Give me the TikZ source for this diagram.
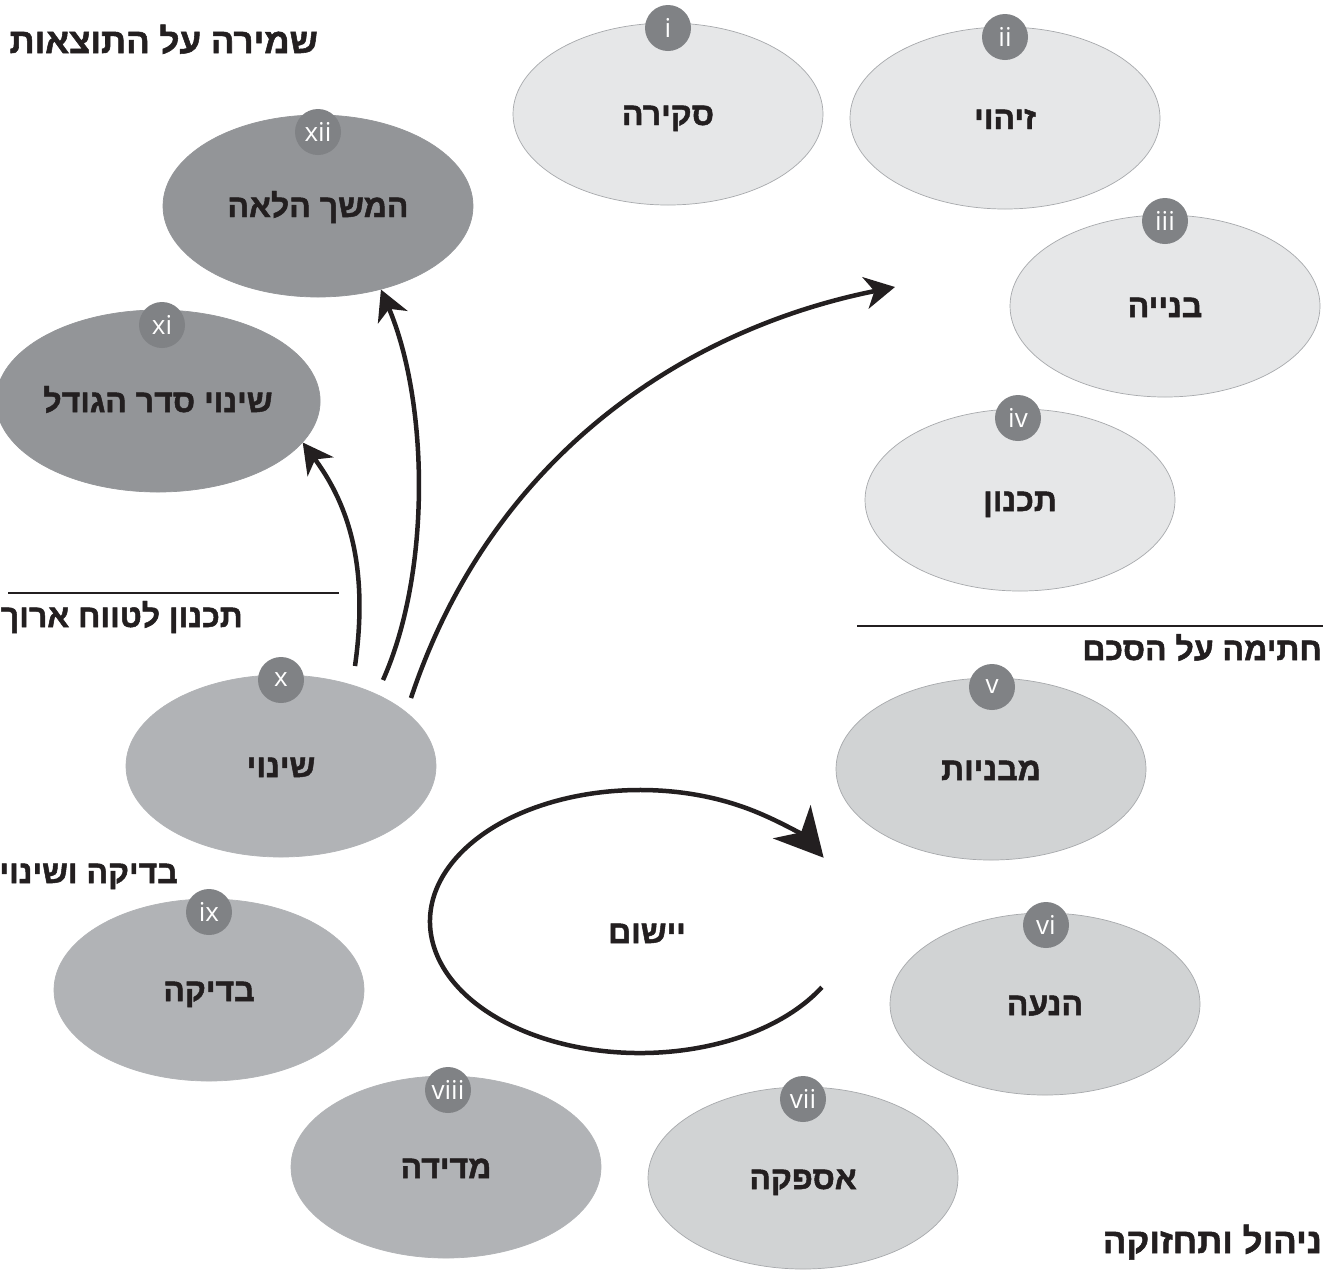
\documentclass[tikz,border=0pt]{standalone}
\usepackage{fontspec}
\usetikzlibrary{arrows.meta,shapes.geometric}
\TeXXeTstate=1
\newfontfamily\hebfont[Script=Hebrew, BoldFeatures={FakeBold=1.5}]{Liberation Sans}
\newfontfamily\numfont{Open Sans}
\definecolor{ink}{HTML}{231F20}
\definecolor{tierA}{HTML}{E6E7E8}
\definecolor{tierB}{HTML}{D1D3D4}
\definecolor{tierC}{HTML}{B1B3B6}
\definecolor{tierD}{HTML}{939598}
\definecolor{badgefill}{HTML}{808285}
\definecolor{rim}{HTML}{A7A9AC}
\tikzset{
  stage/.style={ellipse, minimum width=310pt, minimum height=182pt, inner sep=0pt,
    draw=rim, line width=0.7pt, text=ink, text height=22pt, text depth=0pt,
    font=\hebfont\bfseries\fontsize{32}{36}\selectfont},
  stageA/.style={stage, fill=tierA},
  stageB/.style={stage, fill=tierB},
  stageC/.style={stage, fill=tierC, draw=tierC},
  stageD/.style={stage, fill=tierD, draw=tierD},
  badge/.style={circle, fill=badgefill, minimum size=46pt, inner sep=0pt, text=white,
    font=\numfont\fontsize{26}{26}\selectfont},
  heading/.style={anchor=base east, inner sep=0pt, text=ink,
    font=\hebfont\bfseries\fontsize{35}{40}\selectfont},
  subheading/.style={anchor=base east, inner sep=0pt, text=ink,
    font=\hebfont\bfseries\fontsize{32}{36}\selectfont},
  rule/.style={draw=ink, line width=2pt},
  flow/.style={draw=ink, line width=4.5pt,
    -{Stealth[length=30pt,width=32pt,inset=9pt]}},
  cycleflow/.style={draw=ink, line width=4.5pt,
    -{Stealth[length=48pt,width=50pt,inset=14pt]}},
}
\begin{document}
\begin{tikzpicture}[x=1pt,y=1pt]
\useasboundingbox (0,0) rectangle (1340,-1270);
\fill[white] (0,0) rectangle (1340,-1270);
\clip (0,0) rectangle (1340,-1270);

% stages of the cycle
\node[stageA] (s1)  at (668,-114)  {\beginR סקירה\endR};
\node[stageA] (s2)  at (1005,-118) {\beginR זיהוי\endR};
\node[stageA] (s3)  at (1165,-306) {\beginR בנייה\endR};
\node[stageA] (s4)  at (1020,-500) {\beginR תכנון\endR};
\node[stageB] (s5)  at (991,-769)  {\beginR מבניות\endR};
\node[stageB] (s6)  at (1045,-1004){\beginR הנעה\endR};
\node[stageB] (s7)  at (803,-1178) {\beginR אספקה\endR};
\node[stageC] (s8)  at (446,-1167) {\beginR מדידה\endR};
\node[stageC] (s9)  at (209,-990)  {\beginR בדיקה\endR};
\node[stageC] (s10) at (281,-766)  {\beginR שינוי\endR};
\node[stageD] (s11) at (158,-401)  {\beginR שינוי סדר הגודל\endR};
\node[stageD] (s12) at (318,-206)  {\beginR המשך הלאה\endR};

% numbered badges
\node[badge] (b1)  at (668,-28)   {i};
\node[badge] (b2)  at (1005,-37)  {ii};
\node[badge] (b3)  at (1165,-221) {iii};
\node[badge] (b4)  at (1018,-418) {iv};
\node[badge] (b5)  at (992,-687)  {v};
\node[badge] (b6)  at (1046,-925) {vi};
\node[badge] (b7)  at (803,-1099) {vii};
\node[badge] (b8)  at (448,-1090) {viii};
\node[badge] (b9)  at (209,-912)  {ix};
\node[badge] (b10) at (281,-680)  {x};
\node[badge] (b11) at (162,-325)  {xi};
\node[badge] (b12) at (318,-132)  {xii};

% phase headings
\node[heading]    (h1) at (318,-53)   {\beginR שמירה על התוצאות\endR};
\node[subheading] (h2) at (243,-627)  {\beginR תכנון לטווח ארוך\endR};
\node[subheading] (h3) at (1322,-660) {\beginR חתימה על הסכם\endR};
\node[subheading] (h4) at (178,-883)  {\beginR בדיקה ושינוי\endR};
\node[heading]    (h5) at (1322,-1253){\beginR ניהול ותחזוקה\endR};
\node[subheading, anchor=base] (impl) at (647,-943) {\beginR יישום\endR};

% separator rules
\coordinate (r1a) at (8,-593);   \coordinate (r1b) at (339,-593);
\coordinate (r2a) at (857,-626); \coordinate (r2b) at (1323,-626);
\draw[rule] (r1a) -- (r1b);
\draw[rule] (r2a) -- (r2b);

% branches leaving the change stage
\coordinate (a1s) at (355,-666);
\coordinate (a2s) at (383,-680);
\coordinate (a3s) at (411,-698);
\coordinate (a3e) at (895,-287);
\draw[flow] (a1s) .. controls (370,-560) and (345,-500) .. (s11.-16);
\draw[flow] (a2s) .. controls (432,-570) and (428,-400) .. (s12.-53);
\draw[flow] (a3s) .. controls (490,-460) and (680,-330) .. (a3e);

% implementation loop
\coordinate (loopc) at (640,-921.5);
\draw[cycleflow] (loopc) ++(-30:210pt and 131.5pt)
  arc[start angle=-30, end angle=-331, x radius=210pt, y radius=131.5pt];
\end{tikzpicture}
\end{document}
